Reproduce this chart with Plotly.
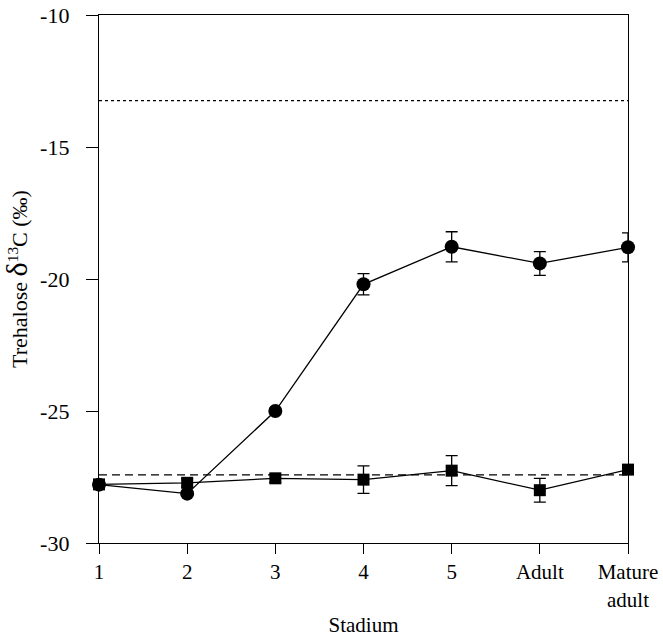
import plotly.graph_objects as go

stadia = ["1", "2", "3", "4", "5", "Adult", "Mature<br>adult"]
circle_mean = [-27.79, -28.13, -25.0, -20.2, -18.78, -19.41, -18.80]
circle_err = [0, 0, 0, 0.4, 0.57, 0.45, 0.55]
square_mean = [-27.78, -27.72, -27.55, -27.6, -27.26, -28.0, -27.22]
square_err = [0, 0.15, 0.15, 0.52, 0.57, 0.45, 0]
dashed_ref = -27.42
dotted_ref = -13.24
y_ticks = [-30, -25, -20, -15, -10]
y_tick_text = ["-30", "-25", "-20", "-15", "-10"]

FONT = "Liberation Serif"

fig = go.Figure()

fig.add_trace(go.Scatter(
    x=stadia, y=square_mean, mode="lines+markers",
    line=dict(color="black", width=1.3),
    marker=dict(symbol="square", size=12, color="black"),
    error_y=dict(type="data", array=square_err, visible=True,
                 color="black", thickness=1.3, width=6),
    cliponaxis=False, showlegend=False,
))
fig.add_trace(go.Scatter(
    x=stadia, y=circle_mean, mode="lines+markers",
    line=dict(color="black", width=1.3),
    marker=dict(symbol="circle", size=14, color="black"),
    error_y=dict(type="data", array=circle_err, visible=True,
                 color="black", thickness=1.3, width=6),
    cliponaxis=False, showlegend=False,
))

fig.add_shape(type="line", xref="paper", yref="y", x0=0, x1=1,
              y0=dashed_ref, y1=dashed_ref,
              line=dict(color="black", width=1.3, dash="8px,5px"), layer="below")
fig.add_shape(type="line", xref="paper", yref="y", x0=0, x1=1,
              y0=dotted_ref, y1=dotted_ref,
              line=dict(color="black", width=1.3, dash="dot"), layer="below")

fig.update_layout(
    width=663, height=642,
    margin=dict(l=99, r=35, t=15, b=99, autoexpand=False),
    plot_bgcolor="white", paper_bgcolor="white",
    font=dict(family=FONT, size=21, color="black"),
    xaxis=dict(
        type="category", categoryorder="array", categoryarray=stadia,
        range=[0, len(stadia) - 1], automargin=False,
        showline=True, linecolor="black", linewidth=1.3, mirror=True,
        ticks="outside", ticklen=10, tickwidth=1.3, tickcolor="black",
        showgrid=False, zeroline=False,
        tickfont=dict(family=FONT, size=21),
        title=dict(text="Stadium", font=dict(family=FONT, size=21), standoff=6),
    ),
    yaxis=dict(
        range=[-30, -10], tickvals=y_ticks, ticktext=y_tick_text, automargin=False,
        showline=True, linecolor="black", linewidth=1.3, mirror=True,
        ticks="outside", ticklen=12, tickwidth=1.3, tickcolor="black",
        showgrid=False, zeroline=False,
        tickfont=dict(family=FONT, size=22),
        ticklabelstandoff=12,
        title=dict(text="Trehalose <span style='font-size:30px'>δ</span><sup>13</sup>C (‰)",
                   font=dict(family=FONT, size=22), standoff=10),
    ),
)

fig.write_html("out.html")
